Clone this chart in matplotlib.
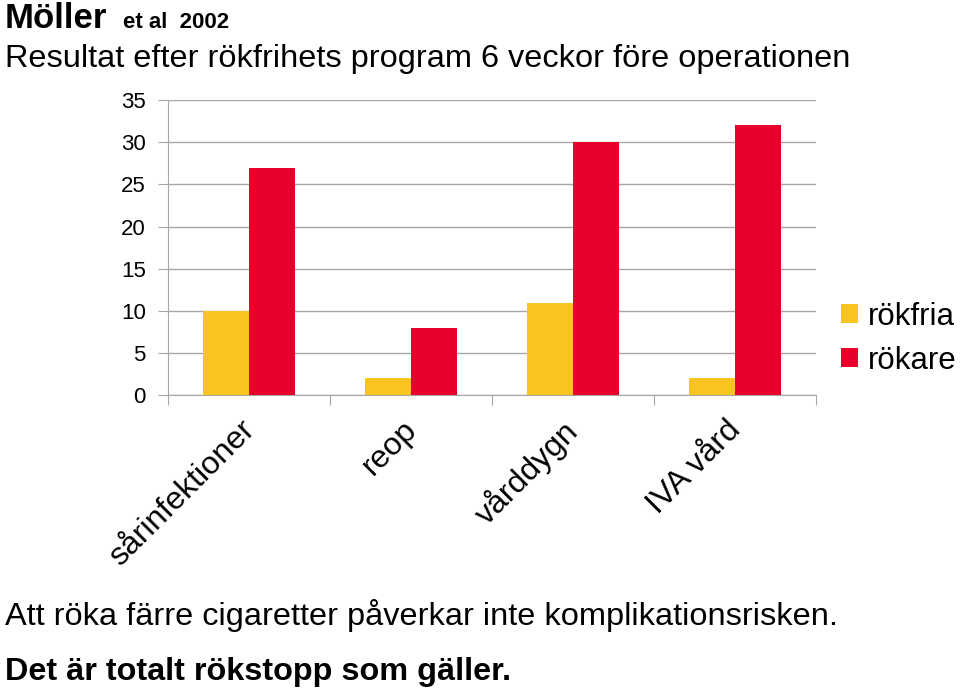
import matplotlib.pyplot as plt
import matplotlib.transforms as mtransforms
import numpy as np

plt.rcParams['font.family'] = ['Liberation Sans', 'DejaVu Sans']

categories = ['sårinfektioner', 'reop', 'vårddygn', 'IVA vård']
rokfria = [10, 2, 11, 2]
rokare = [27, 8, 30, 32]

yellow = '#F9C41F'
red = '#E8002A'
grid = '#A6A6A6'

fig = plt.figure(figsize=(9.6, 6.91), dpi=100)
ax = fig.add_axes([0.175, 0.428, 0.675, 0.427])

x = np.arange(len(categories))
w = 0.285
ax.bar(x - w / 2, rokfria, w, color=yellow, label='rökfria', zorder=3)
ax.bar(x + w / 2, rokare, w, color=red, label='rökare', zorder=3)

ax.set_xlim(-0.5, len(categories) - 0.5)
ax.set_ylim(0, 35)
ax.set_yticks(range(0, 36, 5))
ax.yaxis.grid(True, color=grid, linewidth=1, zorder=0)
for s in ['top', 'right']:
    ax.spines[s].set_visible(False)
ax.spines['left'].set_color(grid)
ax.spines['bottom'].set_color(grid)
ax.tick_params(axis='y', length=7, color=grid, labelsize=16, pad=9)

ax.set_xticks(np.arange(-0.5, len(categories)), labels=[])
ax.tick_params(axis='x', which='major', length=7, color=grid)
ax.set_xticks(x, minor=True)
ax.set_xticklabels(categories, minor=True, rotation=45, ha='right', va='top',
                   fontsize=23)
ax.tick_params(axis='x', which='minor', length=0, pad=14)
shift = mtransforms.ScaledTranslation(12 / 100, 0, fig.dpi_scale_trans)
for lbl in ax.get_xticklabels(minor=True):
    lbl.set_transform(lbl.get_transform() + shift)

fig.legend(loc='center left', bbox_to_anchor=(0.863, 0.51), frameon=False,
           fontsize=22.5, handlelength=0.55, handleheight=0.55, handletextpad=0.3,
           labelspacing=0.45, borderaxespad=0)

fig.text(0.005, 0.9595, 'Möller', fontsize=25, fontweight='bold', va='baseline')
fig.text(0.128, 0.9595, 'et al  2002', fontsize=16, fontweight='bold', va='baseline')
fig.text(0.005, 0.903, 'Resultat efter rökfrihets program 6 veckor före operationen',
         fontsize=23.4, va='baseline')
fig.text(0.005, 0.0955, 'Att röka färre cigaretter påverkar inte komplikationsrisken.',
         fontsize=23.4, va='baseline')
fig.text(0.005, 0.016, 'Det är totalt rökstopp som gäller.',
         fontsize=23.3, fontweight='bold', va='baseline')

fig.savefig('out.png', dpi=100)
